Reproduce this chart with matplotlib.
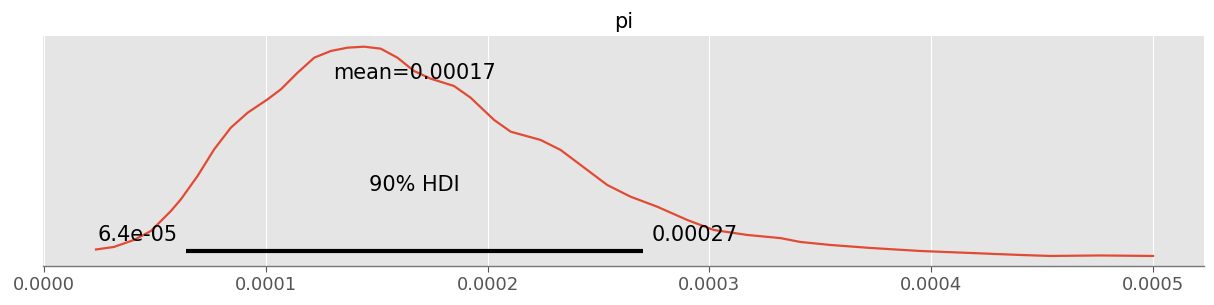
import matplotlib
matplotlib.use('Agg')
import matplotlib.pyplot as plt
from matplotlib.ticker import FormatStrFormatter

plt.style.use('ggplot')

# posterior density of pi (x in units of 1e-4)
x_e4 = [0.234, 0.315, 0.405, 0.482, 0.527, 0.572, 0.617, 0.692, 0.767, 0.842,
        0.918, 1.008, 1.068, 1.143, 1.218, 1.293, 1.368, 1.443, 1.518, 1.593,
        1.668, 1.743, 1.848, 1.923, 1.968, 2.029, 2.104, 2.239, 2.329, 2.419,
        2.539, 2.644, 2.764, 2.900, 3.019, 3.170, 3.320, 3.410, 3.545, 3.725,
        3.950, 4.176, 4.401, 4.536, 4.761, 5.000]
density = [430, 496, 678, 913, 1174, 1435, 1740, 2348, 3044, 3608,
           3999, 4349, 4610, 5043, 5434, 5609, 5695, 5721, 5669, 5434,
           5087, 4886, 4696, 4391, 4143, 3809, 3503, 3287, 3026, 2635,
           2113, 1808, 1547, 1200, 939, 809, 727, 626, 548, 470,
           391, 339, 287, 261, 274, 261]
x = [v * 1e-4 for v in x_e4]

hdi = [6.4e-05, 0.00027]
mean_val = 0.000167
ticks = [0.0, 0.0001, 0.0002, 0.0003, 0.0004, 0.0005]
top = 6000

fig = plt.figure(figsize=(12.14, 3.05), dpi=100)
ax = fig.add_axes([0.0354, 0.128, 0.9564, 0.754])

ax.plot(x, density, color='#E24A33', lw=1.6)
ax.plot(hdi, [top * 0.065] * 2, color='k', lw=3, solid_capstyle='butt')

ax.annotate('6.4e-05', (hdi[0], top * 0.09), xytext=(-6, 0), textcoords='offset points',
            ha='right', va='bottom', fontsize=15)
ax.annotate('0.00027', (hdi[1], top * 0.09), xytext=(6, 0), textcoords='offset points',
            ha='left', va='bottom', fontsize=15)
ax.text(sum(hdi) / 2, top * 0.31, '90% HDI', ha='center', va='bottom', fontsize=15)
ax.text(mean_val, top * 0.795, 'mean=0.00017', ha='center', va='bottom', fontsize=15)

ax.set_xlim(-0.0000005, 0.0005230)
ax.set_ylim(0, top)
ax.set_xticks(ticks)
ax.xaxis.set_major_formatter(FormatStrFormatter('%.4f'))
ax.tick_params(axis='x', labelsize=13, colors='#555555', length=4)
ax.set_yticks([])
ax.grid(axis='y', visible=False)
for s in ['left', 'right', 'top']:
    ax.spines[s].set_visible(False)
ax.spines['bottom'].set_visible(True)
ax.spines['bottom'].set_color('#777777')
ax.set_title('pi', fontsize=15, color='k')

fig.savefig('out.png', dpi=100)
